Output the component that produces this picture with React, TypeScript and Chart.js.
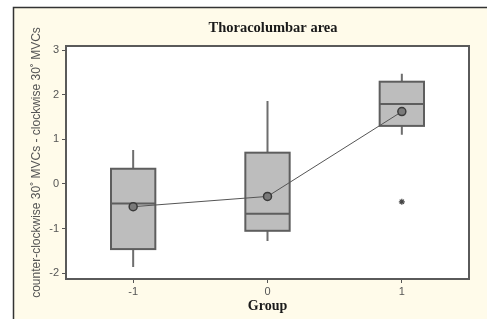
import React, { useEffect, useRef } from "react";
import { Chart, registerables } from "chart.js";

Chart.register(...registerables);

const groups = [-1, 0, 1];
const q1 = [-1.46, -1.05, 1.3];
const q3 = [0.34, 0.7, 2.29];
const medians = [-0.44, -0.67, 1.79];
const whiskerLow = [-1.86, -1.28, 1.1];
const whiskerHigh = [0.76, 1.86, 2.47];
const means = [-0.51, -0.28, 1.62];
const outlierX = [1];
const outlierY = [-0.4];
const xTicks = [-1, 0, 1];
const yTicks = [-2, -1, 0, 1, 2, 3];

const chartTitle = "Thoracolumbar area";
const xTitle = "Group";
const yTitle = "counter-clockwise 30˚ MVCs - clockwise 30˚ MVCs";

const BOX_HALF = 0.165;

const framePlugin = {
  id: "framePlugin",
  beforeDraw(chart: any) {
    const { ctx, chartArea } = chart;
    ctx.save();
    ctx.fillStyle = "#ffffff";
    ctx.fillRect(0, 0, chart.width, chart.height);
    ctx.fillStyle = "#fffbea";
    ctx.fillRect(13, 7, chart.width - 13, 312);
    ctx.strokeStyle = "#333333";
    ctx.lineWidth = 1.5;
    ctx.beginPath();
    ctx.moveTo(13.5, 319);
    ctx.lineTo(13.5, 7.5);
    ctx.lineTo(chart.width, 7.5);
    ctx.stroke();
    ctx.fillStyle = "#ffffff";
    ctx.fillRect(chartArea.left, chartArea.top, chartArea.right - chartArea.left, chartArea.bottom - chartArea.top);
    ctx.fillStyle = "#1a1a1a";
    ctx.font = "bold 14.5px 'Liberation Serif'";
    ctx.textAlign = "center";
    ctx.textBaseline = "middle";
    ctx.fillText(chartTitle, 273, 28);
    ctx.restore();
  },
  beforeDatasetsDraw(chart: any) {
    const { ctx, chartArea, scales } = chart;
    const xs = scales.x;
    const ys = scales.y;
    ctx.save();
    ctx.strokeStyle = "#5a5a5a";
    ctx.lineWidth = 2;
    ctx.strokeRect(chartArea.left, chartArea.top, chartArea.right - chartArea.left, chartArea.bottom - chartArea.top);
    groups.forEach((g, i) => {
      const xc = xs.getPixelForValue(g);
      const xl = xs.getPixelForValue(g - BOX_HALF);
      const xr = xs.getPixelForValue(g + BOX_HALF);
      const yq1 = ys.getPixelForValue(q1[i]);
      const yq3 = ys.getPixelForValue(q3[i]);
      const ymed = ys.getPixelForValue(medians[i]);
      const ylo = ys.getPixelForValue(whiskerLow[i]);
      const yhi = ys.getPixelForValue(whiskerHigh[i]);
      ctx.strokeStyle = "#6e6e6e";
      ctx.lineWidth = 2;
      ctx.beginPath();
      ctx.moveTo(xc, yhi);
      ctx.lineTo(xc, yq3);
      ctx.moveTo(xc, yq1);
      ctx.lineTo(xc, ylo);
      ctx.stroke();
      ctx.fillStyle = "#bdbdbd";
      ctx.fillRect(xl, yq3, xr - xl, yq1 - yq3);
      ctx.strokeStyle = "#5e5e5e";
      ctx.strokeRect(xl, yq3, xr - xl, yq1 - yq3);
      ctx.beginPath();
      ctx.moveTo(xl, ymed);
      ctx.lineTo(xr, ymed);
      ctx.stroke();
    });
    ctx.restore();
  },
};

export default function App() {
  const ref = useRef<HTMLCanvasElement | null>(null);
  useEffect(() => {
    if (!ref.current) return;
    const chart = new Chart(ref.current, {
      type: "scatter",
      data: {
        datasets: [
          {
            label: "Mean",
            data: groups.map((g, i) => ({ x: g, y: means[i] })),
            showLine: true,
            borderColor: "#555555",
            borderWidth: 1,
            pointRadius: 4,
            pointBackgroundColor: "#7a7a7a",
            pointBorderColor: "#3a3a3a",
            pointBorderWidth: 1.5,
          },
          {
            label: "Outlier",
            data: outlierX.map((x, i) => ({ x, y: outlierY[i] })),
            pointStyle: "star",
            pointRadius: 3,
            borderColor: "#444444",
            pointBorderWidth: 1.2,
            showLine: false,
          },
        ],
      },
      plugins: [framePlugin],
      options: {
        animation: false,
        responsive: false,
        layout: { padding: { left: 0, top: 46, right: 18, bottom: 0 } },
        plugins: { legend: { display: false }, title: { display: false }, tooltip: { enabled: false } },
        scales: {
          x: {
            type: "linear",
            min: -1.5,
            max: 1.5,
            afterBuildTicks: (s: any) => {
              s.ticks = xTicks.map((v) => ({ value: v }));
            },
            afterFit: (s: any) => {
              s.height = 42;
            },
            ticks: {
              color: "#555555",
              font: { family: "'Liberation Sans'", size: 11 },
              padding: 2,
              maxRotation: 0,
              callback: (v: any) => String(v),
            },
            grid: { drawOnChartArea: false, drawTicks: true, tickLength: 4, color: "#555555", lineWidth: 1 },
            border: { display: false },
            title: {
              display: true,
              text: xTitle,
              color: "#1a1a1a",
              font: { family: "'Liberation Serif'", size: 14, weight: "bold" },
              padding: { top: 0, bottom: 6.6 },
            },
          },
          y: {
            type: "linear",
            min: -2.13,
            max: 3.09,
            afterBuildTicks: (s: any) => {
              s.ticks = yTicks.map((v) => ({ value: v }));
            },
            afterFit: (s: any) => {
              s.width = 66;
            },
            ticks: {
              color: "#555555",
              font: { family: "'Liberation Sans'", size: 11 },
              padding: 3,
              callback: (v: any) => String(v),
            },
            grid: { drawOnChartArea: false, drawTicks: true, tickLength: 4, color: "#555555", lineWidth: 1 },
            border: { display: false },
            title: {
              display: true,
              text: yTitle,
              color: "#555555",
              font: { family: "'Liberation Sans'", size: 12 },
              padding: { top: 29, bottom: 0 },
            },
          },
        },
      },
    });
    return () => chart.destroy();
  }, []);
  return (
    <div style={{ position: "absolute", left: 0, top: 0, width: 487, height: 321 }}>
      <canvas ref={ref} width={487} height={321} style={{ display: "block" }} />
    </div>
  );
}
